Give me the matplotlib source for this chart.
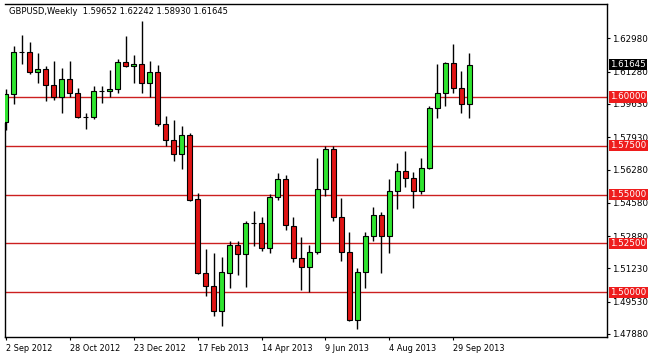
import matplotlib
matplotlib.use("Agg")
import matplotlib.pyplot as plt
from matplotlib.transforms import blended_transform_factory

# ---- data (weekly GBPUSD candles, 2 Sep 2012 .. 13 Oct 2013) ----
opens = [1.5873, 1.6013, 1.6231, 1.6231, 1.6125, 1.6141, 1.6059, 1.6001, 1.6089, 1.6021,
         1.5898, 1.5898, 1.6031, 1.6031, 1.6038, 1.6178, 1.6157, 1.6166, 1.6069, 1.6127,
         1.5861, 1.5779, 1.5708, 1.5805, 1.5478, 1.5098, 1.5033, 1.4907, 1.5101, 1.5242,
         1.5195, 1.5353, 1.5353, 1.5226, 1.5489, 1.5578, 1.5341, 1.5174, 1.5128, 1.5205,
         1.5527, 1.5732, 1.5387, 1.5208, 1.4859, 1.5106, 1.5288, 1.5394, 1.5288, 1.5518,
         1.5622, 1.5583, 1.5518, 1.5635, 1.5941, 1.6018, 1.6174, 1.6043, 1.59652]
highs = [1.6040, 1.6260, 1.6316, 1.6280, 1.6225, 1.6157, 1.6183, 1.6146, 1.6183, 1.6043,
         1.5919, 1.6055, 1.6055, 1.6137, 1.6192, 1.6312, 1.6213, 1.6387, 1.6183, 1.6163,
         1.5902, 1.5881, 1.5851, 1.5813, 1.5510, 1.5220, 1.5200, 1.5183, 1.5264, 1.5264,
         1.5367, 1.5416, 1.5384, 1.5502, 1.5612, 1.5600, 1.5384, 1.5285, 1.5242, 1.5686,
         1.5750, 1.5750, 1.5481, 1.5307, 1.5125, 1.5309, 1.5435, 1.5413, 1.5578, 1.5660,
         1.5723, 1.5617, 1.5686, 1.5953, 1.6168, 1.6176, 1.6268, 1.6132, 1.62242]
lows = [1.5830, 1.5962, 1.6166, 1.6117, 1.6069, 1.5979, 1.5984, 1.5916, 1.6001, 1.5890,
        1.5834, 1.5887, 1.5967, 1.6001, 1.6018, 1.6152, 1.6069, 1.6018, 1.6001, 1.5852,
        1.5748, 1.5672, 1.5631, 1.5467, 1.5093, 1.4983, 1.4881, 1.4828, 1.5021, 1.5089,
        1.5029, 1.5239, 1.5213, 1.5200, 1.5472, 1.5319, 1.5157, 1.5012, 1.5004, 1.5195,
        1.5494, 1.5367, 1.5162, 1.4855, 1.4811, 1.5021, 1.5264, 1.5101, 1.5203, 1.5425,
        1.5540, 1.5430, 1.5502, 1.5631, 1.5890, 1.5953, 1.6021, 1.5916, 1.58930]
closes = [1.6014, 1.6231, 1.6231, 1.6125, 1.6141, 1.6059, 1.6001, 1.6089, 1.6021, 1.5898,
          1.5898, 1.6031, 1.6031, 1.6038, 1.6178, 1.6157, 1.6166, 1.6069, 1.6127, 1.5859,
          1.5779, 1.5708, 1.5805, 1.5472, 1.5098, 1.5033, 1.4907, 1.5104, 1.5242, 1.5195,
          1.5353, 1.5353, 1.5226, 1.5489, 1.5578, 1.5342, 1.5174, 1.5128, 1.5205, 1.5527,
          1.5732, 1.5387, 1.5208, 1.4859, 1.5106, 1.5288, 1.5394, 1.5288, 1.5518, 1.5622,
          1.5583, 1.5518, 1.5635, 1.5941, 1.6018, 1.6174, 1.6043, 1.5965, 1.61645]

levels = [1.60000, 1.57500, 1.55000, 1.52500, 1.50000]
ytick_values = [1.62980, 1.61280, 1.59630, 1.57930, 1.56280, 1.54580, 1.52880, 1.51230, 1.49530, 1.47880]
xtick_labels = ["2 Sep 2012", "28 Oct 2012", "23 Dec 2012", "17 Feb 2013",
                "14 Apr 2013", "9 Jun 2013", "4 Aug 2013", "29 Sep 2013"]
xtick_step = 8
title_text = "GBPUSD,Weekly  1.59652 1.62242 1.58930 1.61645"
last_price = 1.61645

# ---- style ----
BULL = "#2fe52f"
BEAR = "#e01414"
LEVEL = "#cc2020"
LEVEL_BOX = "#ee1c1c"
FS_Y = 6.3
FS_X = 5.9
FS_T = 6.0
plt.rcParams["font.family"] = ["DejaVu Sans"]

fig = plt.figure(figsize=(6.52, 3.57), dpi=100)
fig.patch.set_facecolor("white")
ax = fig.add_axes([5 / 652, 20 / 357, 602 / 652, 333 / 357])

n = len(opens)
idx = list(range(n))

# wicks
ax.vlines(idx, lows, highs, color="black", linewidth=1.0, zorder=2)
# bodies
bottoms = [min(o, c) for o, c in zip(opens, closes)]
heights = [abs(c - o) for o, c in zip(opens, closes)]
colors = [BULL if c > o else BEAR for o, c in zip(opens, closes)]
ax.bar(idx, heights, bottom=bottoms, width=0.62, color=colors,
       edgecolor="black", linewidth=0.8, zorder=3)

# horizontal levels
for lv in levels:
    ax.axhline(lv, color=LEVEL, linewidth=1.0, zorder=1)

ax.set_xlim(-0.12, 75.25)
ax.set_ylim(1.4772, 1.6474)

# y axis on right
ax.yaxis.tick_right()
ax.set_yticks(ytick_values)
ax.set_yticklabels([f"{v:.5f}" for v in ytick_values])
ax.tick_params(axis="y", direction="out", length=2.5, width=0.8, pad=1,
               labelsize=FS_Y, colors="black")

# x axis
xt = [i * xtick_step for i in range(len(xtick_labels))]
ax.set_xticks(xt)
ax.set_xticklabels(xtick_labels, ha="left")
ax.tick_params(axis="x", direction="out", length=2.5, width=0.8, pad=2.5,
               labelsize=FS_X, colors="black")

for s in ["top", "right", "bottom", "left"]:
    ax.spines[s].set_color("black")
    ax.spines[s].set_linewidth(1.0)
ax.spines["left"].set_bounds(1.4772, 1.5866)

# level labels on right
trans = blended_transform_factory(ax.transAxes, ax.transData)
for lv in levels:
    ax.annotate(f"{lv:.5f}", xy=(1.0, lv), xycoords=trans,
                xytext=(2.2, 0), textcoords="offset points",
                ha="left", va="center", fontsize=FS_Y, color="white",
                bbox=dict(boxstyle="square,pad=0.15", fc=LEVEL_BOX, ec="none"),
                annotation_clip=False, zorder=5)
ax.annotate(f"{last_price:.5f}", xy=(1.0, last_price), xycoords=trans,
            xytext=(2.2, 0), textcoords="offset points",
            ha="left", va="center", fontsize=FS_Y, color="white",
            bbox=dict(boxstyle="square,pad=0.15", fc="black", ec="none"),
            annotation_clip=False, zorder=5)

fig.text(9 / 652, 1 - 12 / 357, title_text, fontsize=FS_T, ha="left", va="center",
         color="black")

fig.savefig("out.png", dpi=100)
